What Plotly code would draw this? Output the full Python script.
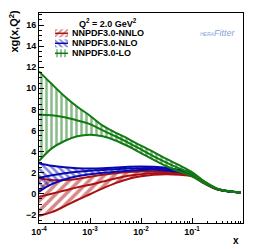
import plotly.graph_objects as go

# ---- data ----
log_x = [-4.0, -3.75, -3.5, -3.25, -3.0, -2.75, -2.5, -2.25, -2.0,
         -1.75, -1.5, -1.25, -1.0, -0.75, -0.5, -0.25, -0.05]
x_vals = [10 ** v for v in log_x]

lo_upper = [11.6, 10.4, 9.25, 8.25, 7.4, 6.45, 5.8, 5.2, 4.55, 3.95, 3.3, 2.7, 2.05, 1.15, 0.47, 0.23, 0.13]
lo_center = [7.5, 7.45, 7.25, 6.95, 6.6, 6.0, 5.45, 4.85, 4.2, 3.55, 2.95, 2.4, 1.85, 1.05, 0.44, 0.22, 0.12]
lo_lower = [3.1, 4.3, 5.0, 5.45, 5.6, 5.45, 5.05, 4.5, 3.85, 3.2, 2.6, 2.1, 1.65, 0.95, 0.41, 0.21, 0.11]

nlo_upper = [2.9, 2.65, 2.5, 2.42, 2.4, 2.42, 2.48, 2.55, 2.58, 2.55, 2.45, 2.25, 1.95, 1.1, 0.45, 0.22, 0.12]
nlo_center = [1.5, 1.75, 1.95, 2.08, 2.18, 2.25, 2.32, 2.38, 2.42, 2.42, 2.33, 2.15, 1.87, 1.05, 0.43, 0.21, 0.11]
nlo_lower = [0.2, 0.9, 1.35, 1.65, 1.85, 1.98, 2.08, 2.17, 2.25, 2.28, 2.2, 2.05, 1.8, 1.0, 0.41, 0.2, 0.11]

nnlo_upper = [1.5, 1.3, 1.3, 1.4, 1.6, 1.8, 1.95, 2.05, 2.1, 2.1, 2.05, 1.95, 1.75, 1.0, 0.42, 0.21, 0.11]
nnlo_center = [-0.3, 0.0, 0.3, 0.6, 0.85, 1.15, 1.45, 1.7, 1.85, 1.93, 1.95, 1.88, 1.7, 0.98, 0.41, 0.2, 0.1]
nnlo_lower = [-2.1, -1.75, -1.2, -0.6, -0.05, 0.5, 1.0, 1.4, 1.65, 1.8, 1.85, 1.8, 1.65, 0.95, 0.4, 0.2, 0.1]

labels = ["NNPDF3.0-NNLO", "NNPDF3.0-NLO", "NNPDF3.0-LO"]
header = "Q<sup>2</sup> = 2.0 GeV<sup>2</sup>"
x_tickvals = [1e-4, 1e-3, 1e-2, 1e-1]
x_ticktext = ["10<sup>-4</sup>", "10<sup>-3</sup>", "10<sup>-2</sup>", "10<sup>-1</sup>"]
x_minor = [m * 10 ** e for e in range(-4, 0) for m in range(2, 10)]
y_tickvals = [-2, 0, 2, 4, 6, 8, 10, 12, 14, 16]

RED = "#aa1212"
BLUE = "#0808b0"
GREEN = "#127a12"
FONT = "Liberation Sans"

bands = [
    (nnlo_lower, nnlo_center, nnlo_upper, RED, "/", 7),
    (nlo_lower, nlo_center, nlo_upper, BLUE, "\\", 5),
    (lo_lower, lo_center, lo_upper, GREEN, "|", 5),
]

# page offset (browser body margin) compensation
OFF = 8
W, H = 256 - OFF, 249 - OFF
# plot area in window pixels
L, R, T, B = 39, 243, 13, 223

def fx(px):
    return (px - L) / (R - L)
def fy(py):
    return (B - py) / (B - T)

fig = go.Figure()
for lower, center, upper, col, shape, size in bands:
    pat = dict(shape=shape, fgcolor=col, bgcolor="rgba(0,0,0,0)", size=size, solidity=0.5)
    fig.add_trace(go.Scatter(x=x_vals, y=lower, mode="lines", line=dict(color=col, width=2, shape="spline"),
                             showlegend=False, hoverinfo="skip"))
    fig.add_trace(go.Scatter(x=x_vals, y=upper, mode="lines", line=dict(color=col, width=2, shape="spline"),
                             fill="tonexty", fillcolor="rgba(0,0,0,0)", fillpattern=pat,
                             showlegend=False, hoverinfo="skip"))
    fig.add_trace(go.Scatter(x=x_vals, y=center, mode="lines", line=dict(color=col, width=2, shape="spline"),
                             showlegend=False, hoverinfo="skip"))

# legend swatches on an overlay linear axis pair
row_y = [33.3, 43.3, 53.3]
for (lower, center, upper, col, shape, size), py, lab in zip(bands, row_y, labels):
    x0, x1 = fx(55), fx(68)
    y0, y1 = fy(py + 4), fy(py - 4)
    pat = dict(shape=shape, fgcolor=col, bgcolor="rgba(0,0,0,0)", size=4, solidity=0.45)
    fig.add_trace(go.Scatter(x=[x0, x1, x1, x0, x0], y=[y0, y0, y1, y1, y0], mode="lines",
                             line=dict(width=0, color=col), fill="toself", fillcolor="rgba(0,0,0,0)",
                             fillpattern=pat, xaxis="x2", yaxis="y2", showlegend=False, hoverinfo="skip"))
    fig.add_trace(go.Scatter(x=[x0, x1], y=[fy(py), fy(py)], mode="lines", line=dict(width=1.5, color=col),
                             xaxis="x2", yaxis="y2", showlegend=False, hoverinfo="skip"))
    fig.add_annotation(x=fx(69.5), y=fy(py), xref="paper", yref="paper", text=lab, showarrow=False,
                       xanchor="left", yanchor="middle",
                       font=dict(family=FONT, size=9, color="black", weight="bold"))

fig.add_annotation(x=fx(108), y=fy(23), xref="paper", yref="paper", text=header, showarrow=False,
                   xanchor="center", yanchor="middle", font=dict(family=FONT, size=9, color="black", weight="bold"))

# HERAFitter logo approximation
fig.add_annotation(x=fx(217), y=fy(33), xref="paper", yref="paper",
                   text="<i><span style='font-size:5px'>HERA</span>Fitter</i>", showarrow=False,
                   xanchor="center", yanchor="middle", font=dict(family=FONT, size=9, color="#8aa4d8"))

# axis titles
fig.add_annotation(x=fx(13), y=fy(OFF), xref="paper", yref="paper", text="xg(x,Q<sup>2</sup>)", showarrow=False,
                   textangle=-90, xanchor="center", yanchor="top",
                   font=dict(family=FONT, size=11, color="black", weight="bold"))
fig.add_annotation(x=fx(236), y=fy(241), xref="paper", yref="paper", text="x", showarrow=False,
                   xanchor="center", yanchor="middle", font=dict(family=FONT, size=10, color="black", weight="bold"))

fig.update_layout(
    width=W, height=H,
    margin=dict(l=L - OFF, r=256 - R, t=T - OFF, b=249 - B, autoexpand=False),
    paper_bgcolor="white", plot_bgcolor="white",
    showlegend=False,
    xaxis=dict(type="log", range=[-4, 0], tickvals=x_tickvals, ticktext=x_ticktext,
               ticks="inside", ticklen=5, tickwidth=1, tickcolor="black",
               minor=dict(tickvals=x_minor, ticks="inside", ticklen=2.5, tickwidth=1, tickcolor="black"),
               showline=True, linecolor="black", linewidth=1, mirror=True, showgrid=False, zeroline=False,
               tickfont=dict(family=FONT, size=9, color="black", weight="bold")),
    yaxis=dict(range=[-2.78, 17.14], tickvals=y_tickvals,
               ticks="inside", ticklen=5, tickwidth=1, tickcolor="black",
               minor=dict(dtick=0.5, tick0=0, ticks="inside", ticklen=2.5, tickwidth=1, tickcolor="black"),
               showline=True, linecolor="black", linewidth=1, mirror=True, showgrid=False, zeroline=False,
               tickfont=dict(family=FONT, size=9, color="black", weight="bold")),
    xaxis2=dict(overlaying="x", range=[0, 1], visible=False, fixedrange=True),
    yaxis2=dict(overlaying="y", range=[0, 1], visible=False, fixedrange=True),
)

fig.write_html("out.html")
